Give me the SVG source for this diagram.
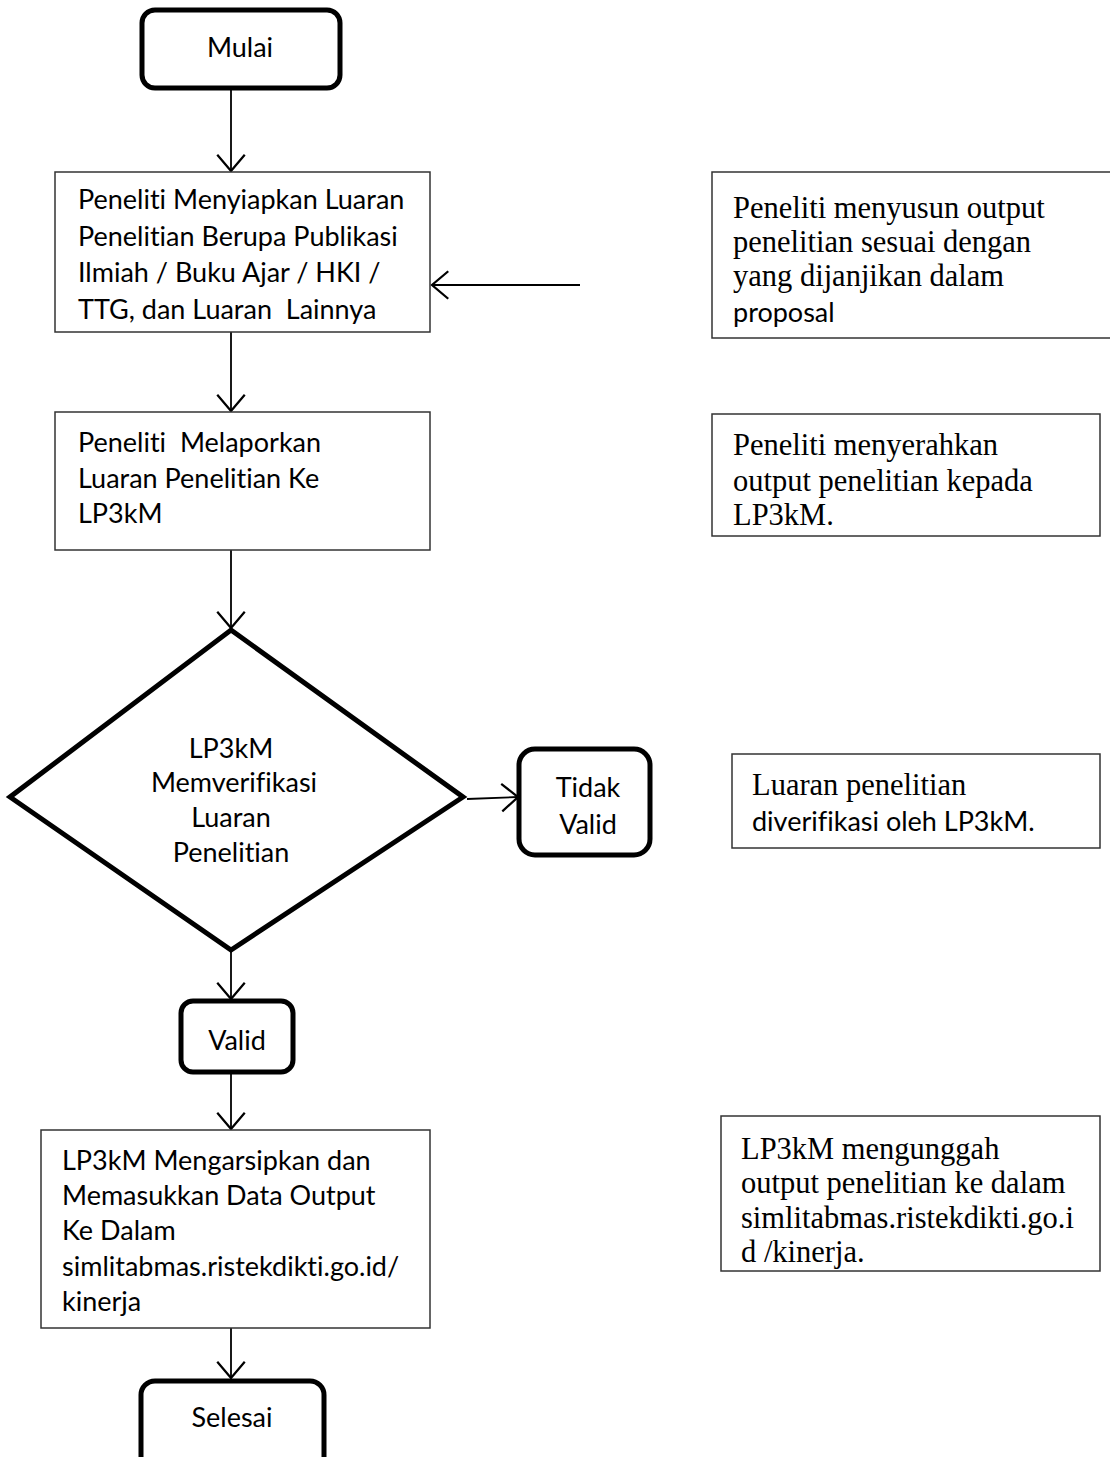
<svg xmlns="http://www.w3.org/2000/svg" width="1110" height="1457" viewBox="0 0 1110 1457">
<defs>
<style>
.box{fill:#fff;stroke:#333;stroke-width:1.5}
.term{fill:#fff;stroke:#000;stroke-width:5}
.conn{stroke:#000;stroke-width:1.8;fill:none}
.sans{font-family:Lato,"Liberation Sans",sans-serif;font-size:27px;fill:#000;font-variant-ligatures:none;font-feature-settings:"liga" 0,"dlig" 0}
.serif{font-family:"Liberation Serif","Times New Roman",serif;font-size:30.5px;fill:#000}
.mid{text-anchor:middle}
</style>
<marker id="arr" markerUnits="userSpaceOnUse" markerWidth="30" markerHeight="30" viewBox="-14 -12 16 24" refX="0" refY="0" orient="auto">
<path d="M-13,-11 L0,0 L-13,11" fill="none" stroke="#000" stroke-width="1.8"/>
</marker>
</defs>
<rect width="1110" height="1457" fill="#fff"/>
<g id="connectors">
<line class="conn" x1="231" y1="90" x2="231" y2="171" marker-end="url(#arr)"/>
<line class="conn" x1="580" y1="285" x2="432" y2="285" marker-end="url(#arr)"/>
<line class="conn" x1="231" y1="332" x2="231" y2="411" marker-end="url(#arr)"/>
<line class="conn" x1="231" y1="550" x2="231" y2="628" marker-end="url(#arr)"/>
<line class="conn" x1="467" y1="799" x2="518" y2="797" marker-end="url(#arr)"/>
<line class="conn" x1="231" y1="952" x2="231" y2="999" marker-end="url(#arr)"/>
<line class="conn" x1="231" y1="1073" x2="231" y2="1129" marker-end="url(#arr)"/>
<line class="conn" x1="231" y1="1328" x2="231" y2="1378" marker-end="url(#arr)"/>
</g>
<g id="mulai">
<rect class="term" x="142" y="10" width="198" height="78" rx="13"/>
<text class="sans mid" x="240" y="57">Mulai</text>
</g>
<g id="menyiapkan">
<rect class="box" x="55" y="172" width="375" height="160"/>
<text class="sans" x="78" y="209">Peneliti Menyiapkan Luaran</text>
<text class="sans" x="78" y="246">Penelitian Berupa Publikasi</text>
<text class="sans" x="78" y="282">Ilmiah / Buku Ajar / HKI /</text>
<text class="sans" x="78" y="319" xml:space="preserve">TTG, dan Luaran  Lainnya</text>
</g>
<g id="melaporkan">
<rect class="box" x="55" y="412" width="375" height="138"/>
<text class="sans" x="78" y="452" xml:space="preserve">Peneliti  Melaporkan</text>
<text class="sans" x="78" y="488">Luaran Penelitian Ke</text>
<text class="sans" x="78" y="523">LP3kM</text>
</g>
<g id="verifikasi">
<polygon class="term" points="231,630 463,797 231,950 10,797"/>
<text class="sans mid" x="231" y="758">LP3kM</text>
<text class="sans mid" x="234" y="792">Memverifikasi</text>
<text class="sans mid" x="231" y="827">Luaran</text>
<text class="sans mid" x="231" y="862">Penelitian</text>
</g>
<g id="tidak-valid">
<rect class="term" x="519" y="749" width="131" height="106" rx="16"/>
<text class="sans mid" x="588" y="797">Tidak</text>
<text class="sans mid" x="588" y="834">Valid</text>
</g>
<g id="valid">
<rect class="term" x="181" y="1001" width="112" height="71" rx="12"/>
<text class="sans mid" x="237" y="1050">Valid</text>
</g>
<g id="mengarsipkan">
<rect class="box" x="41" y="1130" width="389" height="198"/>
<text class="sans" x="62" y="1170">LP3kM Mengarsipkan dan</text>
<text class="sans" x="62" y="1205">Memasukkan Data Output</text>
<text class="sans" x="62" y="1240">Ke Dalam</text>
<text class="sans" x="62" y="1276">simlitabmas.ristekdikti.go.id/</text>
<text class="sans" x="62" y="1311">kinerja</text>
</g>
<g id="selesai">
<rect class="term" x="141" y="1381" width="183" height="90" rx="14"/>
<text class="sans mid" x="232" y="1427">Selesai</text>
</g>
<g id="ket1">
<rect class="box" x="712" y="172" width="405" height="166"/>
<text class="serif" x="733" y="218">Peneliti menyusun output</text>
<text class="serif" x="733" y="252">penelitian sesuai dengan</text>
<text class="serif" x="733" y="286">yang dijanjikan dalam</text>
<text class="sans" x="733" y="322">proposal</text>
</g>
<g id="ket2">
<rect class="box" x="712" y="414" width="388" height="122"/>
<text class="serif" x="733" y="455">Peneliti menyerahkan</text>
<text class="serif" x="733" y="491">output penelitian kepada</text>
<text class="serif" x="733" y="525">LP3kM.</text>
</g>
<g id="ket3">
<rect class="box" x="732" y="754" width="368" height="94"/>
<text class="serif" x="752" y="795">Luaran penelitian</text>
<text class="sans" x="752" y="831">diverifikasi oleh LP3kM.</text>
</g>
<g id="ket4">
<rect class="box" x="721" y="1116" width="379" height="155"/>
<text class="serif" x="741" y="1159">LP3kM mengunggah</text>
<text class="serif" x="741" y="1193">output penelitian ke dalam</text>
<text class="serif" x="741" y="1228">simlitabmas.ristekdikti.go.i</text>
<text class="serif" x="741" y="1262">d /kinerja.</text>
</g>
</svg>
